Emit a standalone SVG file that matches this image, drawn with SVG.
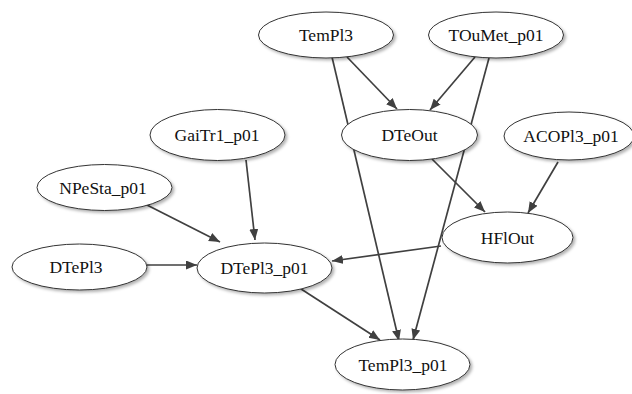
<svg xmlns="http://www.w3.org/2000/svg" width="632" height="394" viewBox="0 0 632 394">
  <defs>
    <filter id="shadow" x="-20%" y="-30%" width="140%" height="160%">
      <feDropShadow dx="2" dy="2" stdDeviation="1.5" flood-color="#000" flood-opacity="0.3"/>
    </filter>
    <marker id="arrow" markerUnits="userSpaceOnUse" markerWidth="12" markerHeight="10" refX="11" refY="4.5" orient="auto">
      <path d="M0,0 L11,4.5 L0,9 z" fill="#404040"/>
    </marker>
  </defs>
  <style>
    .node ellipse { fill: #fff; stroke: #333; stroke-width: 1; filter: url(#shadow); }
    text { font-family: "Liberation Serif", "Times New Roman", Times, "DejaVu Serif", "Noto Serif", serif; font-size: 17.5px; fill: #111; text-anchor: middle; }
    .edges line { stroke: #404040; stroke-width: 1.7; marker-end: url(#arrow); }
  </style>
  <rect width="632" height="394" fill="#fff"/>

  <g class="edges">
    <line x1="347" y1="57" x2="397" y2="109"/>
    <line x1="475" y1="57" x2="430" y2="110"/>
    <line x1="332" y1="57" x2="399" y2="341"/>
    <line x1="489" y1="58" x2="413" y2="340"/>
    <line x1="432" y1="159" x2="485" y2="212"/>
    <line x1="558" y1="162" x2="528" y2="213"/>
    <line x1="441" y1="246" x2="332" y2="261"/>
    <line x1="246" y1="160" x2="255" y2="240"/>
    <line x1="145" y1="204" x2="220" y2="242"/>
    <line x1="147" y1="265" x2="197" y2="265"/>
    <line x1="298" y1="287" x2="380" y2="340"/>
  </g>

  <g id="TemPl3" class="node">
    <ellipse cx="326" cy="35" rx="67.5" ry="23"/>
    <text x="326" y="41">TemPl3</text>
  </g>
  <g id="TOuMet_p01" class="node">
    <ellipse cx="496" cy="35" rx="67.5" ry="23"/>
    <text x="496" y="41">TOuMet_p01</text>
  </g>
  <g id="DTeOut" class="node">
    <ellipse cx="409.5" cy="135" rx="68" ry="25.5"/>
    <text x="409.5" y="141">DTeOut</text>
  </g>
  <g id="ACOPl3_p01" class="node">
    <ellipse cx="569" cy="136" rx="65" ry="24"/>
    <text x="571" y="142">ACOPl3_p01</text>
  </g>
  <g id="GaiTr1_p01" class="node">
    <ellipse cx="217.5" cy="135" rx="67.5" ry="25.5"/>
    <text x="217" y="141">GaiTr1_p01</text>
  </g>
  <g id="NPeSta_p01" class="node">
    <ellipse cx="104.5" cy="187.5" rx="67.5" ry="23"/>
    <text x="103" y="193.5">NPeSta_p01</text>
  </g>
  <g id="HFlOut" class="node">
    <ellipse cx="507.5" cy="237.5" rx="65.5" ry="25.5"/>
    <text x="507.5" y="243.5">HFlOut</text>
  </g>
  <g id="DTePl3" class="node">
    <ellipse cx="79.5" cy="267" rx="67.5" ry="23"/>
    <text x="76" y="273">DTePl3</text>
  </g>
  <g id="DTePl3_p01" class="node">
    <ellipse cx="264.5" cy="268" rx="67.5" ry="25"/>
    <text x="264.5" y="274">DTePl3_p01</text>
  </g>
  <g id="TemPl3_p01" class="node">
    <ellipse cx="402.5" cy="364.5" rx="67.5" ry="25.5"/>
    <text x="403" y="370.5">TemPl3_p01</text>
  </g>
</svg>
